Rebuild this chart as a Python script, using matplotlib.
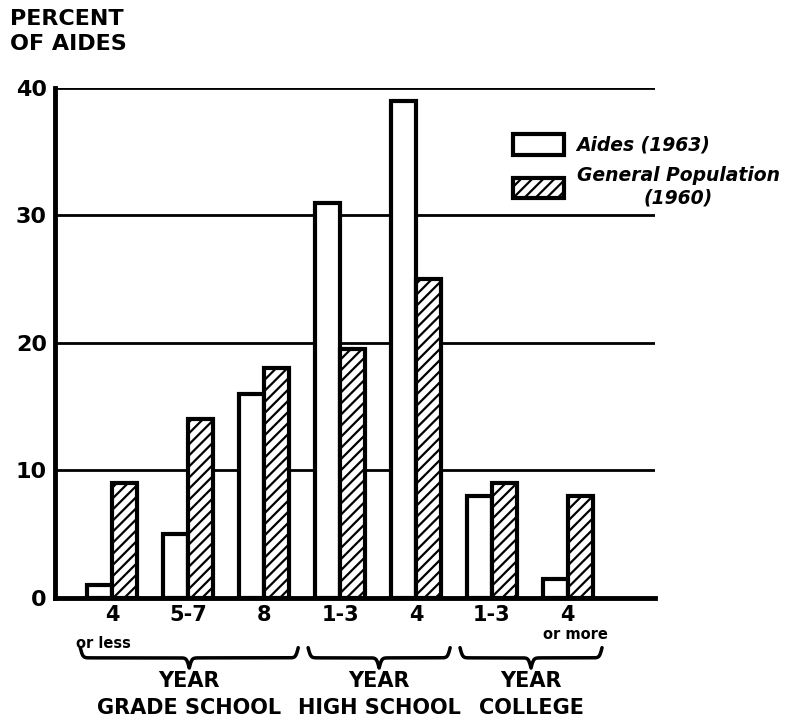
import matplotlib.pyplot as plt
import numpy as np

plt.rcParams['font.family'] = 'DejaVu Sans'
plt.rcParams['hatch.linewidth'] = 1.6

# Datos
years = ['4', '5-7', '8', '1-3', '4', '1-3', '4']
sublabels = ['or less', '', '', '', '', '', 'or more']
aides = [1, 5, 16, 31, 39, 8, 1.5]
general = [9, 14, 18, 19.5, 25, 9, 8]
groups = ['GRADE SCHOOL', 'HIGH SCHOOL', 'COLLEGE']
group_idx = [(0, 2), (3, 4), (5, 6)]
yticks = [0, 10, 20, 30, 40]


# Llave horizontal (apunta hacia abajo) en coords x=datos, y=ejes
def brace(ax, x0, x1, ytip, depth, beta=60):
    xs = np.linspace(x0, x1, 301)
    half = xs[:151]
    yh = 1 / (1 + np.exp(-beta * (half - half[0]))) + 1 / (1 + np.exp(-beta * (half - half[-1])))
    yy = np.concatenate((yh, yh[-2::-1]))
    yy = ytip - (yy - 0.5) * depth
    ax.plot(xs, yy, color='black', lw=2.5, transform=ax.get_xaxis_transform(),
            clip_on=False, solid_capstyle='round')


fig = plt.figure(figsize=(8, 7.21), dpi=100)
ax = fig.add_axes([0.069, 0.171, 0.75, 0.707])

x = np.arange(len(years))
w = 0.33
for yv in yticks[1:]:
    ax.axhline(yv, color='black', lw=2, zorder=1)
ax.bar(x - w / 2, aides, w, color='white', edgecolor='black', lw=3, zorder=3,
       label='Aides (1963)')
ax.bar(x + w / 2, general, w, color='white', edgecolor='black', lw=3, hatch='///',
       zorder=3, label='General Population\n(1960)')

ax.set_xlim(-0.75, 7.15)
ax.set_ylim(0, 40)
for s in ['top', 'right']:
    ax.spines[s].set_visible(False)
for s in ['left', 'bottom']:
    ax.spines[s].set_linewidth(3.5)
ax.set_yticks(yticks)
ax.set_yticklabels([str(t) for t in yticks], fontsize=16, fontweight='bold')
ax.tick_params(axis='y', length=0, pad=6)
ax.set_xticks(x)
ax.set_xticklabels(years, fontsize=15, fontweight='bold')
ax.tick_params(axis='x', length=0, pad=5)

for i, s in enumerate(sublabels):
    if s:
        xx, yy = (i - 0.12, -0.09) if i == 0 else (i + 0.1, -0.072)
        ax.text(xx, yy, s, transform=ax.get_xaxis_transform(), ha='center', va='center',
                fontsize=10.5, fontweight='bold')

for g, (a, b) in zip(groups, group_idx):
    x0, x1 = a - 0.42, b + 0.45
    brace(ax, x0, x1, -0.098, 0.04)
    xm = (x0 + x1) / 2
    ax.text(xm, -0.163, 'YEAR', transform=ax.get_xaxis_transform(), ha='center',
            va='center', fontsize=15, fontweight='bold')
    ax.text(xm, -0.216, g, transform=ax.get_xaxis_transform(), ha='center',
            va='center', fontsize=15, fontweight='bold')

fig.text(0.012, 0.988, 'PERCENT\nOF AIDES', ha='left', va='top', fontsize=16,
         fontweight='bold', linespacing=1.35)

leg = ax.legend(loc='upper left', bbox_to_anchor=(0.62, 0.837), bbox_transform=fig.transFigure,
                frameon=False, handlelength=2.7, handleheight=1.3, handletextpad=0.7,
                labelspacing=0.6, prop={'weight': 'bold', 'style': 'italic', 'size': 13.5})
for t in leg.get_texts():
    t.set_multialignment('center')

fig.savefig('out.png', dpi=100)
